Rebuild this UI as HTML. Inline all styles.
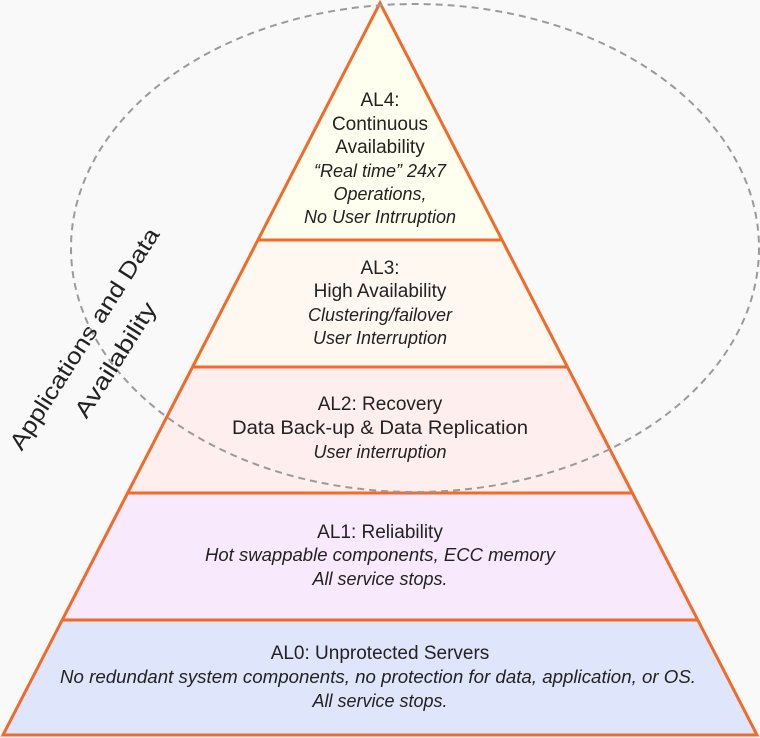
<!DOCTYPE html>
<html><head><meta charset="utf-8"><style>
html,body{margin:0;padding:0;background:#f9f9f9;}
svg{display:block;font-family:"Liberation Sans",sans-serif;}
</style></head><body>
<svg width="760" height="738" viewBox="0 0 760 738" xmlns="http://www.w3.org/2000/svg">
<rect width="760" height="738" fill="#f9f9f9"/>
<polygon points="380,3 502,240 258,240" fill="#fffff0"/>
<polygon points="258,240 502,240 567,367 193,367" fill="#fff8f0"/>
<polygon points="193,367 567,367 632,493 128,493" fill="#ffeeee"/>
<polygon points="128,493 632,493 697,620 62,620" fill="#f8eafc"/>
<polygon points="62,620 697,620 757,735 3,735" fill="#dfe6fc"/>
<g stroke="#f06a28" stroke-width="3" fill="none">
<polygon points="380,3 757,735 3,735"/>
<line x1="258" y1="240" x2="502" y2="240"/>
<line x1="193" y1="367" x2="567" y2="367"/>
<line x1="128" y1="493" x2="632" y2="493"/>
<line x1="62" y1="620" x2="697" y2="620"/>
</g>
<ellipse cx="415" cy="248" rx="344" ry="244" fill="none" stroke="#9a9a9a" stroke-width="2" stroke-dasharray="7,5"/>
<g fill="#222" font-size="19" text-anchor="middle">
<text x="380" y="106">AL4:</text>
<text x="380" y="130">Continuous</text>
<text x="380" y="153">Availability</text>
<g font-style="italic" font-size="18"><text x="380" y="177">“Real time” 24x7</text><text x="380" y="200">Operations,</text><text x="380" y="223">No User Intrruption</text></g>
<text x="380" y="274">AL3:</text>
<text x="380" y="297">High Availability</text>
<g font-style="italic" font-size="18"><text x="380" y="321">Clustering/failover</text><text x="380" y="344">User Interruption</text></g>
<text x="380" y="410">AL2: Recovery</text>
<text x="380" y="434" textLength="296" lengthAdjust="spacingAndGlyphs">Data Back-up &amp; Data Replication</text>
<text x="380" y="458" font-style="italic" font-size="18">User interruption</text>
<text x="380" y="538">AL1: Reliability</text>
<g font-style="italic" font-size="18"><text x="380" y="561" textLength="350" lengthAdjust="spacingAndGlyphs">Hot swappable components, ECC memory</text><text x="380" y="585">All service stops.</text></g>
<text x="380" y="659">AL0: Unprotected Servers</text>
<g font-style="italic" font-size="18"><text x="378" y="683" textLength="636" lengthAdjust="spacingAndGlyphs">No redundant system components, no protection for data, application, or OS.</text><text x="380" y="707">All service stops.</text></g>
<g font-size="23">
<text transform="translate(91,343) rotate(-57.5)" textLength="258" lengthAdjust="spacingAndGlyphs">Applications and Data</text>
<text transform="translate(122,364) rotate(-57.5)" textLength="132" lengthAdjust="spacingAndGlyphs">Availability</text>
</g>
</g>
</svg>
</body></html>
